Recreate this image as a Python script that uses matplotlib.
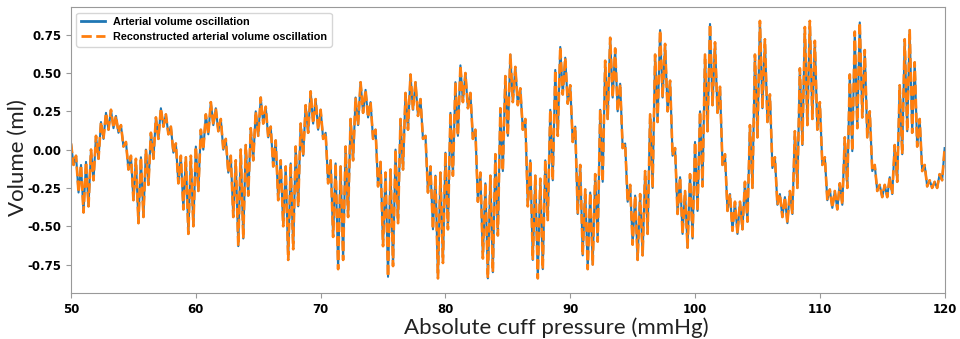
import numpy as np
import matplotlib
matplotlib.use("Agg")
import matplotlib.pyplot as plt

# Ripple tips: one max and one min per ripple (0.4 mmHg),
# ten ripples per heartbeat-like cycle, cuff pressure 50 -> 120 mmHg.
ripple_max = [
    0.04, -0.04, -0.10, -0.08, 0.00, 0.09, 0.18, 0.24,
    0.26, 0.22, 0.16, 0.05, -0.04, -0.06, -0.05, 0.00, 0.11, 0.21,
    0.27, 0.23, 0.15, 0.04, -0.04, -0.05, -0.04, 0.02, 0.13, 0.23,
    0.31, 0.27, 0.20, 0.07, -0.04, -0.07, 0.00, 0.03, 0.14, 0.25,
    0.34, 0.28, 0.15, 0.06, -0.07, -0.11, -0.09, 0.02, 0.17, 0.29,
    0.38, 0.33, 0.26, 0.11, -0.07, -0.09, -0.11, 0.02, 0.20, 0.34,
    0.44, 0.39, 0.31, 0.13, -0.08, -0.15, -0.13, 0.00, 0.20, 0.37,
    0.49, 0.44, 0.33, 0.09, -0.11, -0.17, -0.15, -0.02, 0.24, 0.44,
    0.55, 0.50, 0.37, 0.13, -0.15, -0.22, -0.17, -0.03, 0.27, 0.48,
    0.62, 0.54, 0.40, 0.20, -0.07, -0.17, -0.19, -0.07, 0.26, 0.52,
    0.67, 0.60, 0.42, 0.15, -0.10, -0.26, -0.28, -0.16, 0.26, 0.58,
    0.73, 0.66, 0.43, 0.04, -0.23, -0.30, -0.29, -0.14, 0.23, 0.62,
    0.78, 0.69, 0.45, 0.01, -0.18, -0.27, -0.16, 0.05, 0.25, 0.62,
    0.82, 0.70, 0.41, -0.03, -0.29, -0.34, -0.34, -0.21, 0.16, 0.62,
    0.84, 0.72, 0.36, -0.05, -0.29, -0.31, -0.27, 0.12, 0.53, 0.80,
    0.84, 0.71, 0.31, -0.05, -0.26, -0.27, -0.22, 0.08, 0.49, 0.77,
    0.83, 0.65, 0.25, -0.10, -0.23, -0.23, -0.18, 0.03, 0.42, 0.72,
    0.78, 0.57, 0.20, -0.10, -0.20, -0.21, -0.16,
]
ripple_min = [
    -0.10, -0.28, -0.41, -0.37, -0.20, -0.06, 0.07, 0.13,
    0.14, 0.11, 0.02, -0.13, -0.33, -0.48, -0.44, -0.23, -0.06, 0.07,
    0.15, 0.10, -0.02, -0.22, -0.39, -0.55, -0.50, -0.27, 0.00, 0.10,
    0.16, 0.12, 0.00, -0.15, -0.44, -0.63, -0.58, -0.30, -0.07, 0.09,
    0.17, 0.08, -0.11, -0.33, -0.50, -0.72, -0.65, -0.37, -0.04, 0.11,
    0.17, 0.13, 0.07, -0.22, -0.57, -0.78, -0.72, -0.44, -0.07, 0.16,
    0.24, 0.21, 0.07, -0.24, -0.63, -0.83, -0.76, -0.48, -0.13, 0.13,
    0.26, 0.22, 0.07, -0.28, -0.52, -0.84, -0.74, -0.52, -0.17, 0.09,
    0.31, 0.27, 0.07, -0.34, -0.71, -0.84, -0.80, -0.56, -0.14, 0.09,
    0.31, 0.29, 0.13, -0.37, -0.72, -0.84, -0.78, -0.46, -0.20, 0.09,
    0.36, 0.30, 0.05, -0.42, -0.69, -0.78, -0.75, -0.60, -0.21, 0.20,
    0.34, 0.25, 0.01, -0.34, -0.62, -0.72, -0.69, -0.55, -0.25, 0.18,
    0.34, 0.25, -0.04, -0.42, -0.55, -0.64, -0.58, -0.40, -0.24, 0.12,
    0.29, 0.24, -0.10, -0.40, -0.53, -0.55, -0.52, -0.47, -0.25, 0.08,
    0.27, 0.18, -0.12, -0.36, -0.44, -0.48, -0.42, -0.25, 0.03, 0.16,
    0.20, 0.13, -0.10, -0.33, -0.38, -0.39, -0.36, -0.25, -0.01, 0.14,
    0.21, 0.08, -0.14, -0.27, -0.31, -0.31, -0.29, -0.21, -0.03, 0.12,
    0.11, 0.02, -0.14, -0.24, -0.25, -0.25, -0.20,
]
end_volume = 0.01
p_start, p_end = 50, 120
x_ticks = [50, 60, 70, 80, 90, 100, 110, 120]
y_ticks = [-0.75, -0.50, -0.25, 0.00, 0.25, 0.50, 0.75]

# zig-zag: max, min, max, min, ... , last point
n = len(ripple_max)
volume = np.empty(2 * n + 1)
volume[0:-1:2] = ripple_max
volume[1:-1:2] = ripple_min
volume[-1] = end_volume
pressure = np.linspace(p_start, p_end, 2 * n + 1)
reconstructed = volume.copy()  # reconstruction overlays the measured trace

fig = plt.figure(figsize=(9.6, 3.39), dpi=100)
ax = fig.add_axes([0.074, 0.136, 0.910, 0.843])

ax.plot(pressure, volume, color="#1f77b4", linewidth=1.5,
        label="Arterial volume oscillation")
ax.plot(pressure, reconstructed, color="#ff7f0e", linewidth=1.9, linestyle="--",
        label="Reconstructed arterial volume oscillation")

ax.set_xlim(p_start, p_end)
ax.set_ylim(-0.935, 0.93)
ax.set_xticks(x_ticks)
ax.set_yticks(y_ticks)
ax.set_xticklabels([str(v) for v in x_ticks], fontweight="bold", fontsize=8.5)
ax.set_yticklabels([f"{v:.2f}" for v in y_ticks], fontweight="bold", fontsize=8.5)
for s in ax.spines.values():
    s.set_color("0.6")
ax.tick_params(colors="0.6", labelcolor="black", length=3.5)

leg = ax.legend(loc="upper left", handlelength=2.2,
                prop={"family": "Liberation Sans", "weight": "bold", "size": 7.8})
for line in leg.get_lines():
    line.set_linewidth(2.0)

ax.set_xlabel("Absolute cuff pressure (mmHg)", fontsize=16, family="Lato", color="#222222")
ax.set_ylabel("Volume (ml)", fontsize=16, family="Lato", color="#222222")
ax.xaxis.set_label_coords(0.556, -0.085)
ax.yaxis.set_label_coords(-0.05, 0.475)

fig.savefig("out.png", dpi=100)
